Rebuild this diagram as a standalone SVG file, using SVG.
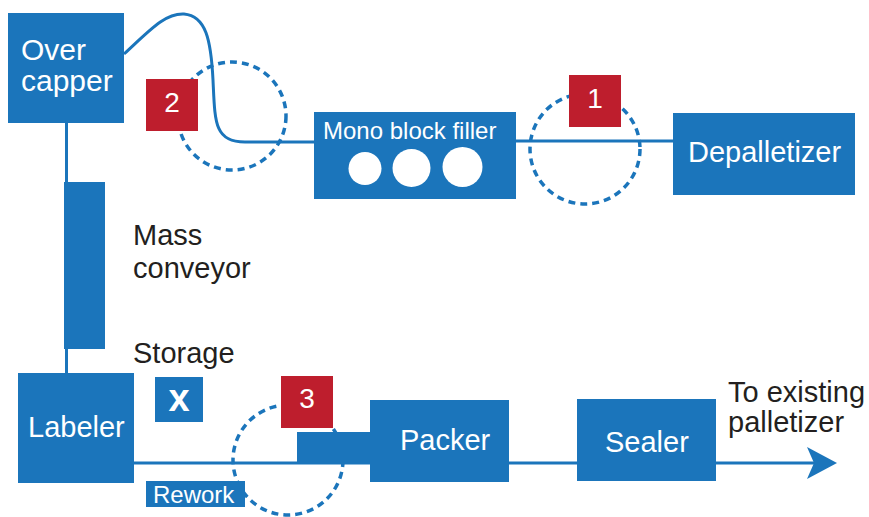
<svg xmlns="http://www.w3.org/2000/svg" width="869" height="517" viewBox="0 0 869 517">
  <style>
    .box { fill: #1b75bb; }
    .tag { fill: #be1e2d; }
    .line { fill: none; stroke: #1b75bb; stroke-width: 3; }
    .zone { fill: none; stroke: #1b75bb; stroke-width: 3.5; stroke-dasharray: 7 5; }
    .lbl { font-family: "Liberation Sans", Arial, sans-serif; fill: #ffffff; }
    .note { font-family: "Liberation Sans", Arial, sans-serif; fill: #231f20; font-size: 29px; }
    .num { font-family: "Liberation Sans", Arial, sans-serif; fill: #ffffff; font-size: 28px; text-anchor: middle; }
  </style>
  <defs>
    <marker id="arrow" markerUnits="userSpaceOnUse" markerWidth="30" markerHeight="32" refX="23" refY="16" orient="auto">
      <path d="M0,0 L30,16 L0,32 L7,16 z" fill="#1b75bb"/>
    </marker>
  </defs>

  <rect width="869" height="517" fill="#ffffff"/>

  <!-- dashed zones around the transfer points -->
  <g id="zones">
    <circle class="zone" cx="232" cy="116" r="54"/>
    <circle class="zone" cx="585" cy="149" r="55"/>
    <circle class="zone" cx="288" cy="460" r="55"/>
  </g>

  <!-- conveyor lines -->
  <g id="connectors">
    <path class="line" d="M124,54 C150,30 165,13 184,14 C206,16 211,40 213,80 C215,122 214,142 245,142 L314,142"/>
    <line class="line" x1="516" y1="141" x2="673" y2="141"/>
    <line class="line" x1="66.5" y1="123" x2="66.5" y2="373"/>
    <line class="line" x1="134" y1="463" x2="830" y2="463" marker-end="url(#arrow)"/>
  </g>

  <g id="overcapper">
    <rect class="box" x="8" y="13" width="116" height="110"/>
    <text class="lbl" x="21" y="60" font-size="30">Over</text>
    <text class="lbl" x="21" y="91" font-size="30">capper</text>
  </g>

  <g id="tag2">
    <rect class="tag" x="146" y="79" width="52" height="52"/>
    <text class="num" x="172" y="112">2</text>
  </g>

  <g id="filler">
    <rect class="box" x="314" y="112" width="202" height="87"/>
    <text class="lbl" x="323" y="139" font-size="24">Mono block filler</text>
    <circle cx="365" cy="168.5" r="16.5" fill="#ffffff"/>
    <circle cx="411.5" cy="168" r="19" fill="#ffffff"/>
    <circle cx="462.5" cy="167" r="20" fill="#ffffff"/>
  </g>

  <g id="tag1">
    <rect class="tag" x="569" y="75" width="52" height="52"/>
    <text class="num" x="595" y="108">1</text>
  </g>

  <g id="depalletizer">
    <rect class="box" x="673" y="113" width="182" height="82"/>
    <text class="lbl" x="688" y="162" font-size="29">Depalletizer</text>
  </g>

  <g id="massconveyor">
    <rect class="box" x="64" y="182" width="41" height="167"/>
    <text class="note" x="133" y="245">Mass</text>
    <text class="note" x="133" y="278">conveyor</text>
  </g>

  <g id="storage">
    <text class="note" x="133" y="363">Storage</text>
    <rect class="box" x="155" y="377" width="48" height="45"/>
    <text class="lbl" x="179" y="411" font-size="38" font-weight="bold" text-anchor="middle">x</text>
  </g>

  <g id="labeler">
    <rect class="box" x="18" y="373" width="116" height="110"/>
    <text class="lbl" x="28" y="437" font-size="29">Labeler</text>
  </g>

  <g id="rework">
    <rect class="box" x="146" y="481" width="99" height="26"/>
    <text class="lbl" x="153" y="503" font-size="24">Rework</text>
  </g>

  <g id="tag3">
    <rect class="tag" x="281" y="376" width="52" height="52"/>
    <text class="num" x="307" y="408">3</text>
  </g>

  <g id="packer">
    <rect class="box" x="297" y="432" width="74" height="32"/>
    <rect class="box" x="370" y="400" width="139" height="82"/>
    <text class="lbl" x="400" y="450" font-size="29">Packer</text>
  </g>

  <g id="sealer">
    <rect class="box" x="577" y="399" width="139" height="82"/>
    <text class="lbl" x="605" y="452" font-size="29">Sealer</text>
  </g>

  <g id="palletizer-note">
    <text class="note" x="728" y="402">To existing</text>
    <text class="note" x="728" y="432">palletizer</text>
  </g>
</svg>
